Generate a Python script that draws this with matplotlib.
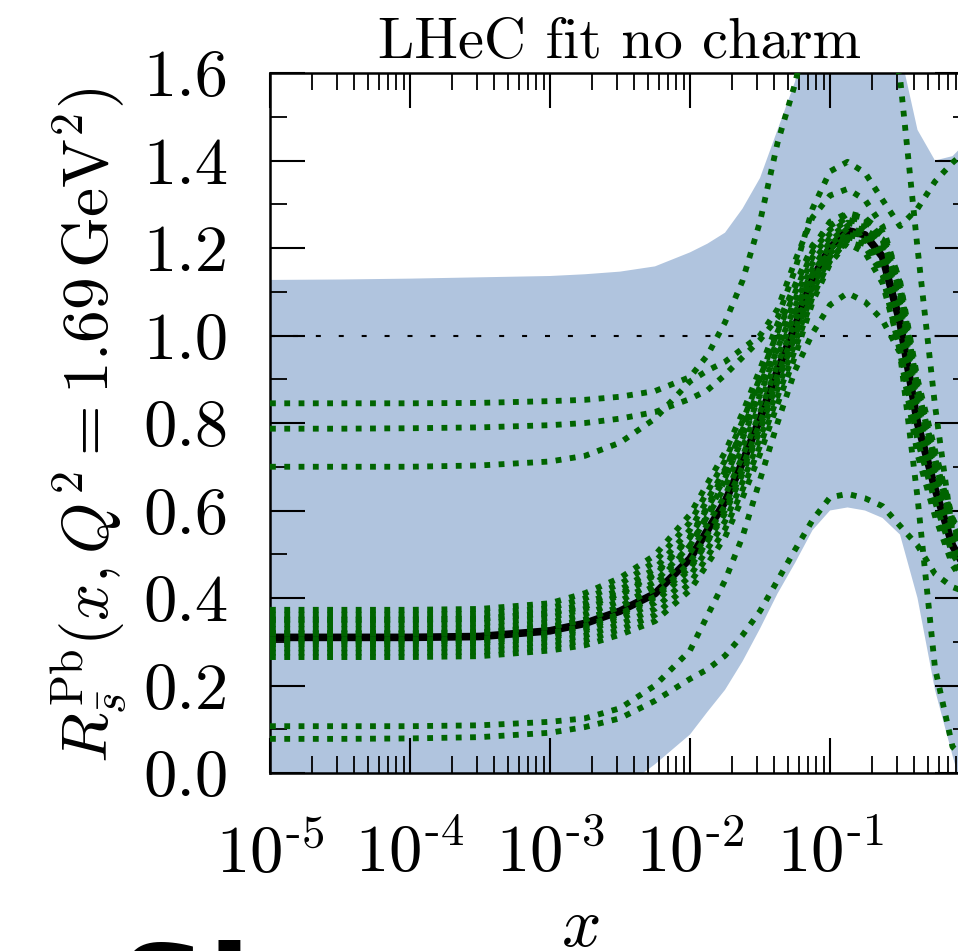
import matplotlib
matplotlib.use("Agg")
import matplotlib.pyplot as plt
import numpy as np
from matplotlib.ticker import FixedLocator, LogLocator, MultipleLocator, NullFormatter

plt.rcParams["mathtext.fontset"] = "cm"
plt.rcParams["font.family"] = "serif"
plt.rcParams["font.serif"] = ["cmr10"]
plt.rcParams["axes.unicode_minus"] = False

# x grid (log10 x)
log_x = [-5, -4.5, -4, -3.5, -3, -2.75, -2.5, -2.25, -2, -1.875, -1.75, -1.625, -1.5,
         -1.375, -1.25, -1.125, -1, -0.875, -0.75, -0.625, -0.5, -0.375, -0.25, -0.125, 0]

band_upper = [1.127, 1.128, 1.13, 1.133, 1.136, 1.14, 1.146, 1.158, 1.19, 1.21, 1.235, 1.29, 1.36,
              1.47, 1.58, 1.75, 1.95, 2.0, 2.0, 1.9, 1.65, 1.47, 1.40, 1.41, 1.45]
band_lower = [-0.3, -0.3, -0.3, -0.25, -0.15, -0.09, -0.04, 0.02, 0.088, 0.14, 0.19, 0.255, 0.33,
              0.41, 0.48, 0.555, 0.60, 0.607, 0.60, 0.583, 0.545, 0.40, 0.19, 0.04, -0.1]

central = [0.31, 0.31, 0.31, 0.312, 0.325, 0.342, 0.37, 0.41, 0.49, 0.555, 0.62, 0.71, 0.81,
           0.92, 1.02, 1.13, 1.20, 1.24, 1.23, 1.18, 1.03, 0.80, 0.65, 0.52, 0.45]

# error sets (dotted green) - bundle close to the central fit
set_d1 = [0.373, 0.373, 0.373, 0.375, 0.388, 0.411, 0.446, 0.498, 0.591, 0.662, 0.733, 0.823, 0.923,
          1.027, 1.115, 1.206, 1.25, 1.278, 1.268, 1.237, 1.125, 0.901, 0.738, 0.583, 0.5]
set_d2 = [0.362, 0.362, 0.362, 0.364, 0.377, 0.399, 0.432, 0.483, 0.573, 0.643, 0.714, 0.804, 0.904,
          1.008, 1.098, 1.192, 1.242, 1.271, 1.261, 1.227, 1.108, 0.883, 0.723, 0.572, 0.492]
set_d3 = [0.351, 0.351, 0.351, 0.353, 0.366, 0.387, 0.419, 0.467, 0.556, 0.625, 0.694, 0.784, 0.884,
          0.99, 1.082, 1.179, 1.233, 1.265, 1.255, 1.217, 1.092, 0.866, 0.707, 0.561, 0.483]
set_d4 = [0.34, 0.34, 0.34, 0.342, 0.355, 0.375, 0.406, 0.452, 0.538, 0.606, 0.674, 0.764, 0.864,
          0.971, 1.065, 1.166, 1.224, 1.258, 1.248, 1.207, 1.075, 0.848, 0.692, 0.55, 0.474]
set_d5 = [0.329, 0.329, 0.329, 0.331, 0.344, 0.363, 0.393, 0.437, 0.52, 0.587, 0.654, 0.744, 0.844,
          0.952, 1.049, 1.153, 1.215, 1.251, 1.241, 1.197, 1.059, 0.83, 0.677, 0.539, 0.465]
set_d6 = [0.318, 0.318, 0.318, 0.32, 0.333, 0.351, 0.38, 0.421, 0.503, 0.569, 0.634, 0.724, 0.824,
          0.934, 1.032, 1.14, 1.206, 1.245, 1.235, 1.187, 1.042, 0.813, 0.661, 0.528, 0.456]
set_d7 = [0.305, 0.305, 0.305, 0.307, 0.32, 0.336, 0.364, 0.403, 0.482, 0.546, 0.611, 0.701, 0.801,
          0.911, 1.012, 1.124, 1.196, 1.237, 1.227, 1.175, 1.022, 0.792, 0.643, 0.515, 0.446]
set_d8 = [0.295, 0.295, 0.295, 0.297, 0.31, 0.325, 0.352, 0.389, 0.466, 0.529, 0.593, 0.683, 0.783,
          0.894, 0.997, 1.112, 1.188, 1.231, 1.221, 1.166, 1.007, 0.776, 0.629, 0.505, 0.438]
set_d9 = [0.285, 0.285, 0.285, 0.287, 0.30, 0.314, 0.34, 0.375, 0.45, 0.512, 0.575, 0.665, 0.765,
          0.877, 0.982, 1.10, 1.18, 1.225, 1.215, 1.157, 0.992, 0.76, 0.615, 0.495, 0.43]
set_d10 = [0.275, 0.275, 0.275, 0.277, 0.29, 0.303, 0.328, 0.361, 0.434, 0.495, 0.557, 0.647, 0.747,
           0.86, 0.967, 1.088, 1.172, 1.219, 1.209, 1.148, 0.977, 0.744, 0.601, 0.485, 0.422]
set_d11 = [0.265, 0.265, 0.265, 0.267, 0.28, 0.292, 0.316, 0.347, 0.418, 0.478, 0.539, 0.629, 0.729,
           0.843, 0.952, 1.076, 1.164, 1.213, 1.203, 1.139, 0.962, 0.728, 0.587, 0.475, 0.414]
set_b8 = [0.30, 0.30, 0.30, 0.302, 0.315, 0.33, 0.36, 0.40, 0.47, 0.53, 0.60, 0.69, 0.79,
          0.90, 1.00, 1.10, 1.17, 1.22, 1.24, 1.22, 1.10, 0.88, 0.71, 0.57, 0.48]
set_b9 = [0.32, 0.32, 0.32, 0.322, 0.335, 0.35, 0.38, 0.43, 0.52, 0.59, 0.67, 0.77, 0.87,
          0.97, 1.06, 1.14, 1.19, 1.21, 1.19, 1.12, 0.97, 0.76, 0.62, 0.50, 0.44]
set_a3 = [0.35, 0.35, 0.35, 0.352, 0.365, 0.38, 0.41, 0.455, 0.54, 0.61, 0.69, 0.79, 0.90,
          1.01, 1.11, 1.20, 1.26, 1.28, 1.27, 1.22, 1.09, 0.86, 0.70, 0.56, 0.49]
# outlying error sets
set_o1 = [0.845, 0.845, 0.845, 0.846, 0.85, 0.853, 0.86, 0.873, 0.905, 0.955, 1.03, 1.125, 1.26,
          1.44, 1.575, 1.75, 1.9, 1.95, 1.9, 1.75, 1.59, 1.20, 0.84, 0.55, 0.45]
set_o2 = [0.787, 0.787, 0.788, 0.79, 0.795, 0.80, 0.81, 0.825, 0.855, 0.875, 0.91, 0.95, 0.99,
          1.04, 1.15, 1.29, 1.375, 1.397, 1.372, 1.31, 1.25, 1.29, 1.352, 1.395, 1.43]
set_o3 = [0.70, 0.70, 0.70, 0.703, 0.712, 0.725, 0.755, 0.81, 0.895, 0.92, 0.94, 0.97, 1.00,
          1.06, 1.17, 1.27, 1.32, 1.335, 1.31, 1.25, 1.12, 0.88, 0.72, 0.58, 0.50]
set_l1 = [0.107, 0.107, 0.107, 0.109, 0.117, 0.125, 0.148, 0.20, 0.28, 0.36, 0.44, 0.54, 0.67,
          0.80, 0.92, 1.005, 1.07, 1.097, 1.077, 1.035, 0.96, 0.63, 0.24, 0.06, 0.02]
set_l2 = [0.078, 0.078, 0.079, 0.082, 0.092, 0.105, 0.125, 0.165, 0.215, 0.237, 0.268, 0.315, 0.37,
          0.44, 0.51, 0.578, 0.63, 0.638, 0.628, 0.61, 0.565, 0.52, 0.455, 0.425, 0.41]

error_sets = [set_d1, set_d2, set_d3, set_d4, set_d5, set_d6, set_d7, set_d8, set_d9, set_d10,
              set_d11, set_b8, set_b9, set_a3, set_o1, set_o2, set_o3, set_l1, set_l2]

y_ticks = [0.0, 0.2, 0.4, 0.6, 0.8, 1.0, 1.2, 1.4, 1.6]
x_ticks = [1e-5, 1e-4, 1e-3, 1e-2, 1e-1, 1e0]
x_tick_labels = [r"$10^{\text{-5}}$", r"$10^{\text{-4}}$", r"$10^{\text{-3}}$",
                 r"$10^{\text{-2}}$", r"$10^{\text{-1}}$", ""]

x = 10.0 ** np.array(log_x)

W, H = 958, 951
fig = plt.figure(figsize=(W / 100, H / 100), dpi=100)
# axes runs past the right edge of the figure, as in the original crop
ax = fig.add_axes([270 / W, 1 - 773 / H, 700 / W, 700 / H])

ax.fill_between(x, band_lower, band_upper, color="lightsteelblue", lw=0, zorder=1)
ax.axhline(1.0, color="k", lw=1.5, ls=(0, (2.4, 8.6)), zorder=2)
ax.plot(x, central, color="k", lw=5.5, zorder=3)
for s in error_sets:
    ax.plot(x, s, color="#006400", lw=4.2, ls=(0, (1, 1.45)), zorder=4)

ax.set_xscale("log")
ax.set_xlim(1e-5, 1)
ax.set_ylim(0, 1.6)

ax.xaxis.set_major_locator(FixedLocator(x_ticks))
ax.set_xticklabels(x_tick_labels)
ax.xaxis.set_minor_locator(LogLocator(base=10, subs=np.arange(2, 10), numticks=100))
ax.xaxis.set_minor_formatter(NullFormatter())
ax.set_yticks(y_ticks)
ax.set_yticklabels([f"{v:.1f}" for v in y_ticks])
ax.yaxis.set_minor_locator(MultipleLocator(0.1))

ax.tick_params(which="both", direction="in", top=True, right=True, labelsize=48)
ax.tick_params(which="major", length=25, width=1.5)
ax.tick_params(which="minor", length=12, width=1.3)
ax.tick_params(axis="y", pad=30)
ax.tick_params(axis="x", pad=36)
for sp in ax.spines.values():
    sp.set_linewidth(1.8)

ax.set_title("LHeC fit no charm", fontsize=42, pad=11)

fig.text(90 / W, 1 - 425 / H, r"$R^{\mathrm{Pb}}_{\bar{s}}(x,Q^2=1.69\,\mathrm{GeV}^2)$",
         rotation=90, ha="center", va="center", fontsize=47)
fig.text(580 / W, 1 - 928 / H, r"$x$", ha="center", va="center", fontsize=50)
fig.text(118 / W, 1 - 940 / H, "Sl", ha="left", va="top", fontsize=90,
         fontweight="bold", family="DejaVu Sans")

fig.savefig("out.png", dpi=100)
plt.close(fig)
